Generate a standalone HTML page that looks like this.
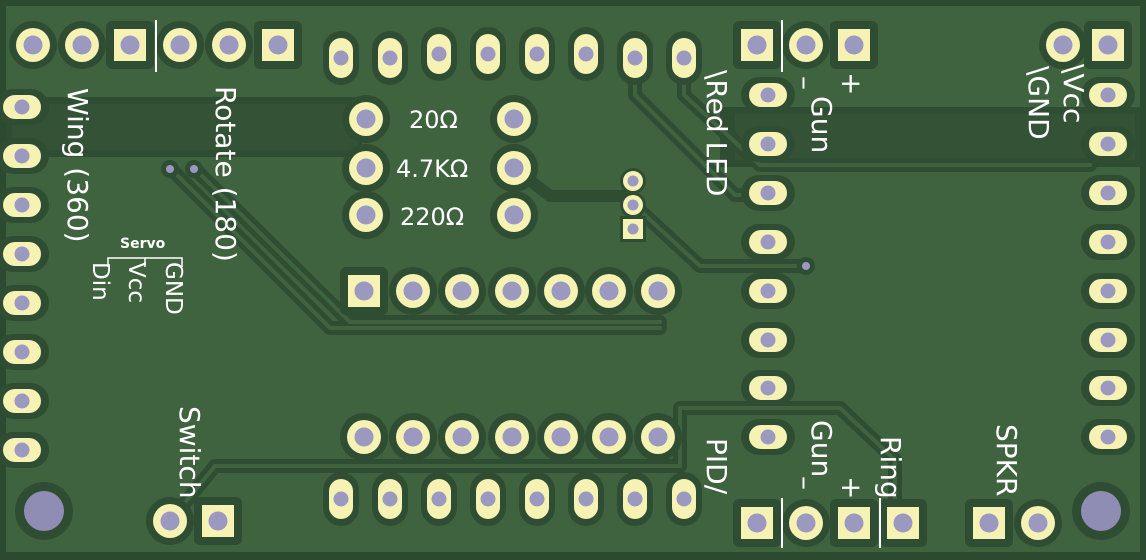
<!DOCTYPE html>
<html><head><meta charset="utf-8"><style>
html,body{margin:0;padding:0;background:#2c4a30;}
svg{display:block}
text{font-family:"DejaVu Sans","Liberation Sans",sans-serif;fill:#fff;}
</style></head><body>
<svg width="1146" height="560" viewBox="0 0 1146 560" xmlns="http://www.w3.org/2000/svg">
<defs>
<g id="rp"><circle r="24" fill="#2f4d33"/><circle r="17" fill="#f5f2b4"/><circle r="9.5" fill="#9b99bf"/></g>
<g id="sp"><rect x="-24" y="-24" width="48" height="48" rx="6" fill="#2f4d33"/><rect x="-16" y="-16" width="32" height="32" fill="#f5f2b4"/><circle r="9.5" fill="#9b99bf"/></g>
<g id="vo"><rect x="-18" y="-27" width="36" height="54" rx="18" fill="#2f4d33"/><rect x="-12" y="-20" width="24" height="40" rx="12" fill="#f5f2b4"/><circle r="7.5" fill="#9b99bf"/></g>
<g id="ho"><rect x="-27" y="-18" width="54" height="36" rx="18" fill="#2f4d33"/><rect x="-19" y="-12" width="38" height="24" rx="12" fill="#f5f2b4"/><circle r="7.5" fill="#9b99bf"/></g>
<g id="sm"><circle r="13" fill="#2f4d33"/><circle r="10" fill="#f5f2b4"/><circle r="5.5" fill="#9b99bf"/></g>
</defs>
<rect x="0" y="0" width="1146" height="560" fill="#2c4a30"/>
<rect x="6" y="6" width="1134" height="546" fill="#40633f"/>
<!-- dark bands -->
<rect x="6" y="97" width="356" height="60" fill="#2f4d33"/>
<rect x="12" y="104" width="346" height="46" fill="#335236"/>
<rect x="720" y="107" width="420" height="60" fill="#2f4d33"/>
<rect x="735" y="114" width="400" height="46" fill="#335236"/>
<!-- traces -->
<g fill="none" stroke-linejoin="round" stroke-linecap="round">
<path d="M170,168 L330,328 L660,328" stroke="#2f4d33" stroke-width="14"/>
<path d="M194,168 L350,322 L660,322" stroke="#2f4d33" stroke-width="14"/>
<path d="M170,168 L330,328 L660,328" stroke="#40633f" stroke-width="4"/>
<path d="M194,168 L350,322 L660,322" stroke="#40633f" stroke-width="4"/>
<path d="M635,50 L635,95 L735,195 L768,195" stroke="#2f4d33" stroke-width="14"/>
<path d="M684,50 L684,95 L760,165 L1090,165" stroke="#2f4d33" stroke-width="14"/>
<path d="M633,204 L700,266 L806,266" stroke="#2f4d33" stroke-width="14"/>
<path d="M514,168 L550,196 L633,196" stroke="#2f4d33" stroke-width="12"/>
<path d="M635,50 L635,95 L735,195 L768,195" stroke="#40633f" stroke-width="4"/>
<path d="M684,50 L684,95 L760,165 L1090,165" stroke="#40633f" stroke-width="4"/>
<path d="M633,204 L700,266 L806,266" stroke="#40633f" stroke-width="4"/>
<path d="M170,521 L215,466 L680,466 L680,408 L840,408 L895,460 L895,523" stroke="#2f4d33" stroke-width="14"/>
<path d="M170,521 L215,466 L680,466 L680,408 L840,408 L895,460 L895,523" stroke="#40633f" stroke-width="4"/>
</g>
<!-- top-left header -->
<use href="#rp" x="33" y="45"/><use href="#rp" x="82" y="45"/><use href="#sp" x="130" y="45"/>
<use href="#rp" x="180" y="45"/><use href="#rp" x="229" y="45"/><use href="#sp" x="278" y="45"/>
<line x1="156" y1="20" x2="156" y2="72" stroke="#fff" stroke-width="2"/>
<!-- oval rows -->
<g>
<use href="#vo" x="341" y="58"/><use href="#vo" x="390" y="58"/><use href="#vo" x="439" y="54"/><use href="#vo" x="488" y="54"/><use href="#vo" x="537" y="54"/><use href="#vo" x="586" y="54"/><use href="#vo" x="635" y="58"/><use href="#vo" x="684" y="58"/>
<use href="#vo" x="341" y="499"/><use href="#vo" x="390" y="499"/><use href="#vo" x="439" y="499"/><use href="#vo" x="488" y="499"/><use href="#vo" x="537" y="499"/><use href="#vo" x="586" y="499"/><use href="#vo" x="635" y="499"/><use href="#vo" x="684" y="499"/>
</g>
<!-- left column -->
<g>
<use href="#ho" x="22" y="107"/><use href="#ho" x="22" y="156"/><use href="#ho" x="22" y="205"/><use href="#ho" x="22" y="254"/><use href="#ho" x="22" y="303"/><use href="#ho" x="22" y="352"/><use href="#ho" x="22" y="401"/><use href="#ho" x="22" y="450"/>
</g>
<!-- column 768 -->
<g>
<use href="#ho" x="768" y="95"/><use href="#ho" x="768" y="144"/><use href="#ho" x="768" y="193"/><use href="#ho" x="768" y="242"/><use href="#ho" x="768" y="291"/><use href="#ho" x="768" y="340"/><use href="#ho" x="768" y="388"/><use href="#ho" x="768" y="437"/>
</g>
<!-- right column -->
<g>
<use href="#ho" x="1108" y="95"/><use href="#ho" x="1108" y="144"/><use href="#ho" x="1108" y="193"/><use href="#ho" x="1108" y="242"/><use href="#ho" x="1108" y="291"/><use href="#ho" x="1108" y="340"/><use href="#ho" x="1108" y="388"/><use href="#ho" x="1108" y="437"/>
</g>
<use href="#rp" x="1063" y="45"/><use href="#sp" x="1108" y="45"/>
<!-- gun top -->
<use href="#sp" x="757" y="45"/><use href="#rp" x="806" y="45"/><use href="#sp" x="854" y="45"/>
<line x1="782" y1="20" x2="782" y2="72" stroke="#fff" stroke-width="2"/>
<!-- resistors -->
<use href="#rp" x="366" y="119"/><use href="#rp" x="514" y="119"/>
<use href="#rp" x="366" y="168"/><use href="#rp" x="514" y="168"/>
<use href="#rp" x="366" y="215"/><use href="#rp" x="514" y="215"/>
<!-- middle rows -->
<use href="#sp" x="364" y="291"/><use href="#rp" x="413" y="291"/><use href="#rp" x="462" y="291"/><use href="#rp" x="512" y="291"/><use href="#rp" x="561" y="291"/><use href="#rp" x="609" y="291"/><use href="#rp" x="658" y="291"/>
<use href="#rp" x="364" y="437"/><use href="#rp" x="413" y="437"/><use href="#rp" x="462" y="437"/><use href="#rp" x="512" y="437"/><use href="#rp" x="561" y="437"/><use href="#rp" x="609" y="437"/><use href="#rp" x="658" y="437"/>
<!-- small 3 pin -->
<use href="#sm" x="633" y="181"/><use href="#sm" x="633" y="205"/>
<rect x="620" y="216" width="26" height="26" fill="#2f4d33"/><rect x="623" y="219" width="20" height="20" fill="#f5f2b4"/><circle cx="633" cy="229" r="5.5" fill="#9b99bf"/>
<!-- vias -->
<circle cx="170" cy="169" r="9" fill="#2f4d33"/><circle cx="170" cy="169" r="4" fill="#9b99bf"/>
<circle cx="194" cy="169" r="9" fill="#2f4d33"/><circle cx="194" cy="169" r="4" fill="#9b99bf"/>
<circle cx="806" cy="266" r="9" fill="#2f4d33"/><circle cx="806" cy="266" r="4" fill="#9b99bf"/>
<!-- bottom -->
<use href="#rp" x="170" y="521"/><use href="#sp" x="218" y="521"/>
<use href="#sp" x="757" y="523"/><use href="#rp" x="806" y="523"/><use href="#sp" x="854" y="523"/><use href="#sp" x="903" y="523"/>
<line x1="782" y1="498" x2="782" y2="548" stroke="#fff" stroke-width="2"/>
<line x1="880" y1="498" x2="880" y2="548" stroke="#fff" stroke-width="2"/>
<use href="#sp" x="989" y="523"/><use href="#rp" x="1038" y="523"/>
<circle cx="44" cy="511" r="29" fill="#2f4d33"/><circle cx="44" cy="511" r="20" fill="#8f8db4"/>
<circle cx="1101" cy="511" r="29" fill="#2f4d33"/><circle cx="1101" cy="511" r="20" fill="#8f8db4"/>
<!-- labels -->
<g font-size="28">
<text transform="translate(68,88) rotate(90)">Wing (360)</text>
<text transform="translate(216,86) rotate(90)">Rotate (180)</text>
<text transform="translate(707,70) rotate(90)">\Red LED</text>
<text transform="translate(812,96) rotate(90)">Gun</text>
<text transform="translate(1064,64) rotate(90)">\Vcc</text>
<text transform="translate(1029,66) rotate(90)">\GND</text>
<text transform="translate(180,406) rotate(90)">Switch</text>
<text transform="translate(707,438) rotate(90)">PID/</text>
<text transform="translate(812,420) rotate(90)">Gun</text>
<text transform="translate(881,436) rotate(90)">Ring</text>
<text transform="translate(997,424) rotate(90)">SPKR</text>
<text transform="translate(796,76) rotate(90)">–</text>
<text transform="translate(842,72) rotate(90)">+</text>
<text transform="translate(796,476) rotate(90)">–</text>
<text transform="translate(842,476) rotate(90)">+</text>
</g>
<g font-size="24">
<text x="409" y="128">20Ω</text>
<text x="396" y="177">4.7KΩ</text>
<text x="400" y="225">220Ω</text>
</g>
<text x="120" y="248" font-size="14" font-weight="bold">Servo</text>
<path d="M108,267 V258 H182 V267 M145,258 V267" stroke="#fff" stroke-width="1.5" fill="none"/>
<g font-size="23">
<text transform="translate(93,262) rotate(90)">Din</text>
<text transform="translate(129,262) rotate(90)">Vcc</text>
<text transform="translate(166,262) rotate(90)">GND</text>
</g>
</svg>
</body></html>
